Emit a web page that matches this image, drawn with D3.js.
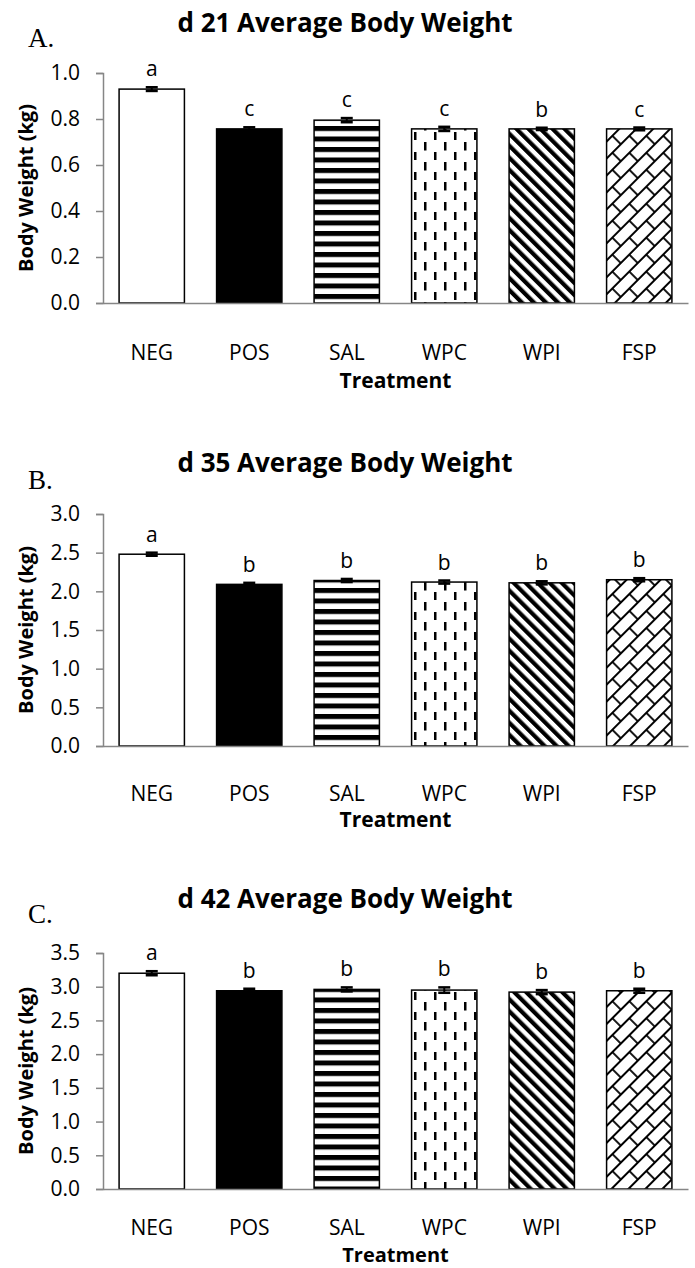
<!DOCTYPE html>
<html>
<head>
<meta charset="utf-8">
<script src="https://cdn.jsdelivr.net/npm/d3@7"></script>
<style>
  body { margin: 0; background: #fff; }
  svg { display: block; }
</style>
</head>
<body>
<div id="chart"></div>
<script>
// treatments, shared by all three panels
var categories = ['NEG', 'POS', 'SAL', 'WPC', 'WPI', 'FSP'];

// d 21
var d21Means = [0.930, 0.757, 0.795, 0.757, 0.757, 0.757];
var d21Errors = [0.008, 0.007, 0.009, 0.009, 0.005, 0.006];
var d21Letters = ['a', 'c', 'c', 'c', 'b', 'c'];
var d21Ticks = [0, 0.2, 0.4, 0.6, 0.8, 1.0];

// d 35
var d35Means = [2.48, 2.09, 2.14, 2.12, 2.11, 2.15];
var d35Errors = [0.02, 0.02, 0.02, 0.02, 0.02, 0.02];
var d35Letters = ['a', 'b', 'b', 'b', 'b', 'b'];
var d35Ticks = [0, 0.5, 1.0, 1.5, 2.0, 2.5, 3.0];

// d 42
var d42Means = [3.20, 2.94, 2.96, 2.95, 2.92, 2.94];
var d42Errors = [0.03, 0.03, 0.03, 0.04, 0.03, 0.03];
var d42Letters = ['a', 'b', 'b', 'b', 'b', 'b'];
var d42Ticks = [0, 0.5, 1.0, 1.5, 2.0, 2.5, 3.0, 3.5];

var width = 695, height = 1268;
var left = 103, right = 688;
var sans = "'Open Sans', 'Noto Sans', sans-serif";

var panels = [
  { title: 'd 21 Average Body Weight', tag: 'A.', means: d21Means, errors: d21Errors, letters: d21Letters, ticks: d21Ticks,
    titleY: 32, tagY: 47, yTop: 73, yBottom: 303, catY: 360, xTitleY: 388, xTitleSize: 21 },
  { title: 'd 35 Average Body Weight', tag: 'B.', means: d35Means, errors: d35Errors, letters: d35Letters, ticks: d35Ticks,
    titleY: 472, tagY: 489, yTop: 514, yBottom: 746, catY: 801, xTitleY: 827, xTitleSize: 21 },
  { title: 'd 42 Average Body Weight', tag: 'C.', means: d42Means, errors: d42Errors, letters: d42Letters, ticks: d42Ticks,
    titleY: 908, tagY: 923, yTop: 953, yBottom: 1189, catY: 1235, xTitleY: 1262, xTitleSize: 20 }
];

var svg = d3.select('#chart').append('svg')
  .attr('width', width)
  .attr('height', height)
  .attr('viewBox', [0, 0, width, height]);

// fill patterns, one per treatment
var defs = svg.append('defs');

var pHoriz = defs.append('pattern').attr('id', 'p-sal')
  .attr('patternUnits', 'userSpaceOnUse').attr('width', 10).attr('height', 10.5);
pHoriz.append('rect').attr('width', 10).attr('height', 10.5).attr('fill', '#fff');
pHoriz.append('rect').attr('y', 0).attr('width', 10).attr('height', 5).attr('fill', '#000');

var pDash = defs.append('pattern').attr('id', 'p-wpc')
  .attr('patternUnits', 'userSpaceOnUse').attr('width', 20).attr('height', 20);
pDash.append('rect').attr('width', 20).attr('height', 20).attr('fill', '#fff');
pDash.append('rect').attr('x', 4).attr('y', 2).attr('width', 2.5).attr('height', 8.5).attr('fill', '#000');
pDash.append('rect').attr('x', 14).attr('y', 12).attr('width', 2.5).attr('height', 8.5).attr('fill', '#000');

var pDiag = defs.append('pattern').attr('id', 'p-wpi')
  .attr('patternUnits', 'userSpaceOnUse').attr('width', 8.5).attr('height', 8.5)
  .attr('patternTransform', 'rotate(-45)');
pDiag.append('rect').attr('width', 8.5).attr('height', 8.5).attr('fill', '#fff');
pDiag.append('rect').attr('width', 4.2).attr('height', 8.5).attr('fill', '#000');

var pShingle = defs.append('pattern').attr('id', 'p-fsp')
  .attr('patternUnits', 'userSpaceOnUse').attr('width', 24).attr('height', 24)
  .attr('patternTransform', 'rotate(-45)');
pShingle.append('rect').attr('width', 24).attr('height', 24).attr('fill', '#fff');
pShingle.append('path')
  .attr('d', 'M0,1H24M0,13H24M1,1V13M13,13V25')
  .attr('stroke', '#000').attr('stroke-width', 1.8).attr('fill', 'none');

var barFills = ['#fff', '#000', 'url(#p-sal)', 'url(#p-wpc)', 'url(#p-wpi)', 'url(#p-fsp)'];

var x = d3.scaleBand()
  .domain(categories)
  .range([left, right])
  .paddingInner(0.33)
  .paddingOuter(0.165);

panels.forEach(function (p) {
  var y = d3.scaleLinear()
    .domain([0, p.ticks[p.ticks.length - 1]])
    .range([p.yBottom, p.yTop]);

  var g = svg.append('g');

  // title + panel tag
  g.append('text')
    .attr('x', 345).attr('y', p.titleY)
    .attr('text-anchor', 'middle')
    .attr('font-family', sans).attr('font-weight', 'bold').attr('font-size', 26)
    .attr('fill', '#000')
    .text(p.title);
  g.append('text')
    .attr('x', 28).attr('y', p.tagY)
    .attr('font-family', "'Liberation Serif', 'DejaVu Serif', serif").attr('font-size', 27)
    .attr('fill', '#000')
    .text(p.tag);

  // y axis
  var yAxis = g.append('g')
    .attr('transform', 'translate(' + left + ',0)')
    .call(d3.axisLeft(y).tickValues(p.ticks).tickFormat(d3.format('.1f')).tickSize(7).tickPadding(16));
  yAxis.selectAll('path, line').attr('stroke', '#868686').attr('stroke-width', 1.5);
  yAxis.selectAll('text').attr('font-family', sans).attr('font-size', 21).attr('fill', '#000');

  // bars
  g.append('g').selectAll('rect')
    .data(p.means)
    .join('rect')
      .attr('x', function (d, i) { return x(categories[i]); })
      .attr('y', function (d) { return y(d); })
      .attr('width', x.bandwidth())
      .attr('height', function (d) { return y(0) - y(d); })
      .attr('fill', function (d, i) { return barFills[i]; })
      .attr('stroke', '#000')
      .attr('stroke-width', 1.5);

  // error bars
  var eb = g.append('g').selectAll('g')
    .data(p.means)
    .join('g');
  eb.append('line')
    .attr('x1', function (d, i) { return x(categories[i]) + x.bandwidth() / 2; })
    .attr('x2', function (d, i) { return x(categories[i]) + x.bandwidth() / 2; })
    .attr('y1', function (d, i) { return y(d - p.errors[i]); })
    .attr('y2', function (d, i) { return y(d + p.errors[i]); })
    .attr('stroke', '#000').attr('stroke-width', 2);
  [-1, 1].forEach(function (sgn) {
    eb.append('line')
      .attr('x1', function (d, i) { return x(categories[i]) + x.bandwidth() / 2 - 6; })
      .attr('x2', function (d, i) { return x(categories[i]) + x.bandwidth() / 2 + 6; })
      .attr('y1', function (d, i) { return y(d + sgn * p.errors[i]); })
      .attr('y2', function (d, i) { return y(d + sgn * p.errors[i]); })
      .attr('stroke', '#000').attr('stroke-width', 2.5);
  });

  // significance letters
  g.append('g').selectAll('text')
    .data(p.letters)
    .join('text')
      .attr('x', function (d, i) { return x(categories[i]) + x.bandwidth() / 2; })
      .attr('y', function (d, i) { return y(p.means[i] + p.errors[i]) - 11; })
      .attr('text-anchor', 'middle')
      .attr('font-family', sans).attr('font-size', 21).attr('fill', '#000')
      .text(function (d) { return d; });

  // x axis
  var xAxis = g.append('g')
    .attr('transform', 'translate(0,' + p.yBottom + ')')
    .call(d3.axisBottom(x).tickSize(0).tickSizeOuter(0).tickPadding(p.catY - p.yBottom - 15));
  xAxis.select('.domain').attr('stroke', '#868686').attr('stroke-width', 1.5);
  xAxis.selectAll('text').attr('font-family', sans).attr('font-size', 21).attr('fill', '#000');

  // axis titles
  g.append('text')
    .attr('x', (left + right) / 2).attr('y', p.xTitleY)
    .attr('text-anchor', 'middle')
    .attr('font-family', sans).attr('font-weight', 'bold').attr('font-size', p.xTitleSize)
    .attr('fill', '#000')
    .text('Treatment');
  g.append('text')
    .attr('transform', 'translate(33,' + (p.yTop + p.yBottom) / 2 + ') rotate(-90)')
    .attr('text-anchor', 'middle')
    .attr('font-family', sans).attr('font-weight', 'bold').attr('font-size', 20)
    .attr('fill', '#000')
    .text('Body Weight (kg)');
});
</script>
</body>
</html>
